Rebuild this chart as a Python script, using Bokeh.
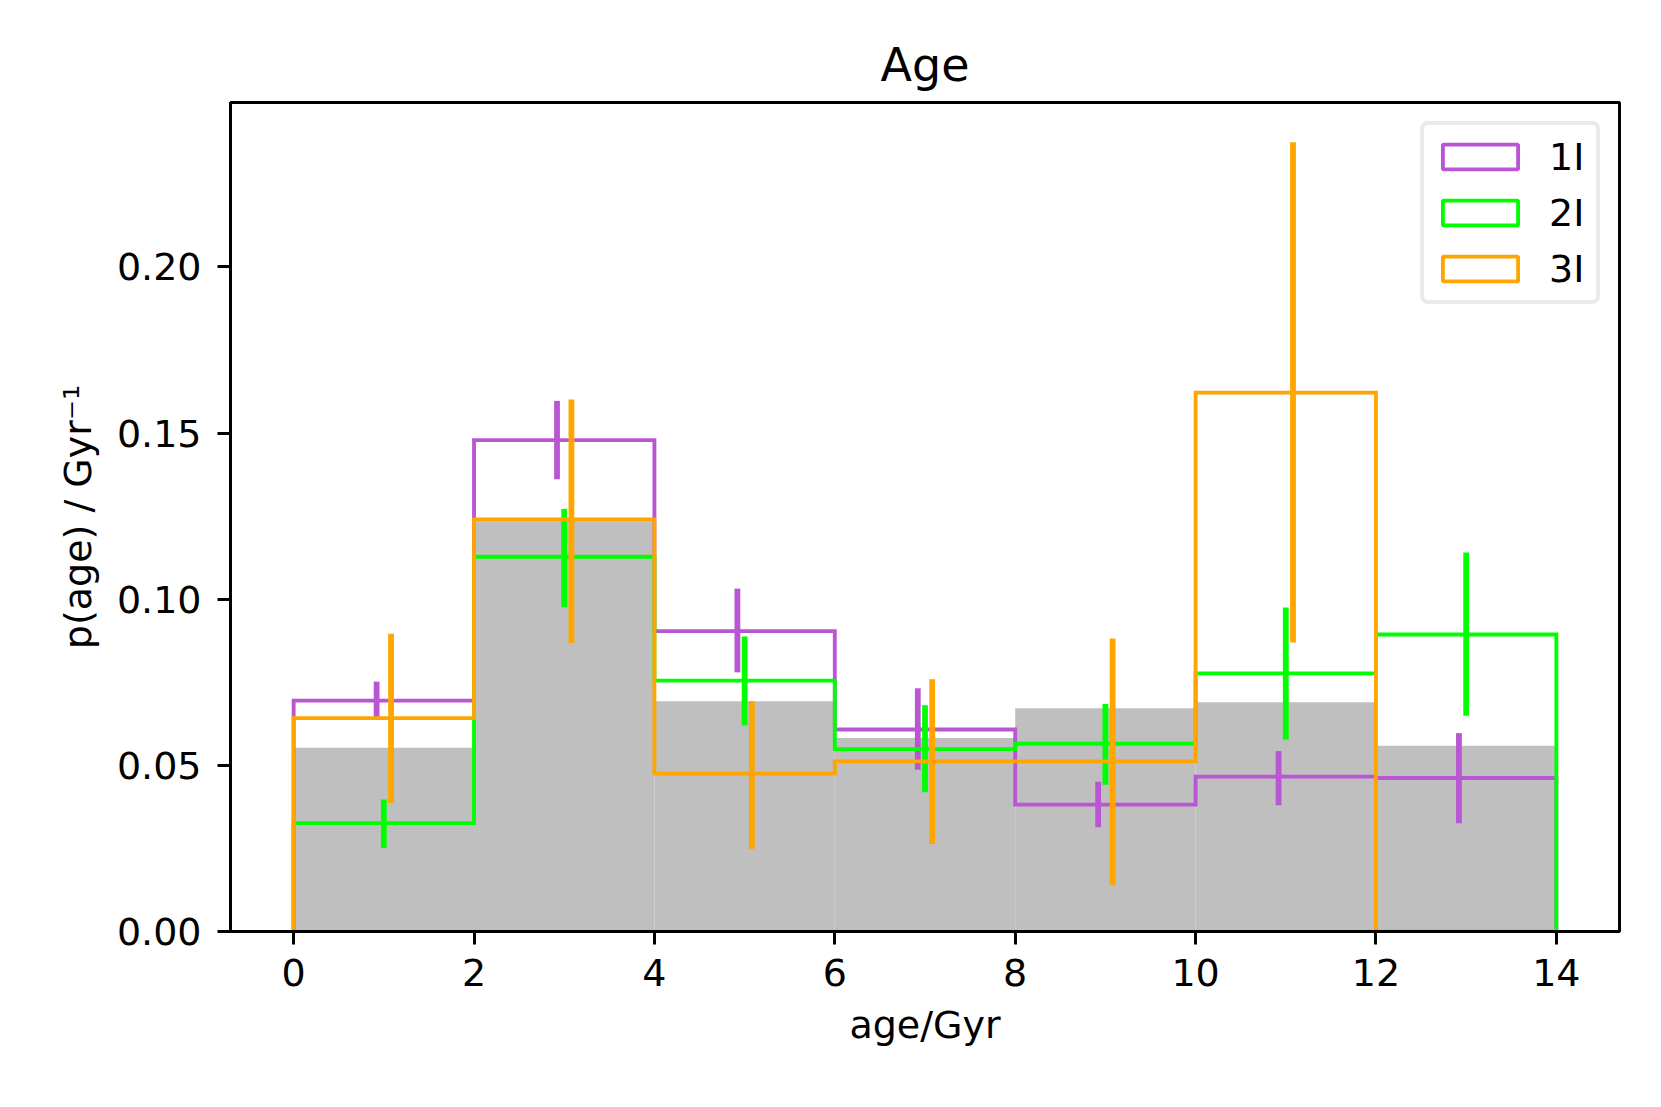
from bokeh.plotting import figure
from bokeh.models import Range1d, FixedTicker, NumeralTickFormatter, Legend, LegendItem, ColumnDataSource
from bokeh.embed import file_html
from bokeh.resources import INLINE

# ---- data ----
bin_edges = [0, 2, 4, 6, 8, 10, 12, 14]
prior = [0.0553, 0.1235, 0.0693, 0.0582, 0.0672, 0.0690, 0.0559]

labels = ["1I", "2I", "3I"]
colors = ["#ba55d3", "#00ff00", "#ffa500"]

p1I = [0.0695, 0.1479, 0.0904, 0.0608, 0.0382, 0.0466, 0.0462]
p1I_lo = [0.0645, 0.1361, 0.0780, 0.0487, 0.0314, 0.0380, 0.0326]
p1I_hi = [0.0752, 0.1597, 0.1032, 0.0732, 0.0451, 0.0543, 0.0597]

p2I = [0.0326, 0.1128, 0.0755, 0.0549, 0.0565, 0.0777, 0.0894]
p2I_lo = [0.0251, 0.0976, 0.0620, 0.0419, 0.0442, 0.0578, 0.0649]
p2I_hi = [0.0397, 0.1272, 0.0888, 0.0681, 0.0685, 0.0975, 0.1141]

p3I = [0.0642, 0.1240, 0.0475, 0.0512, 0.0512, 0.1622, 0.0]
p3I_lo = [0.0387, 0.0868, 0.0249, 0.0263, 0.0141, 0.0870, 0.0]
p3I_hi = [0.0896, 0.1601, 0.0693, 0.0759, 0.0882, 0.2375, 0.0]

offsets = [-0.08, 0.0, 0.08]
x_ticks = [0, 2, 4, 6, 8, 10, 12, 14]
y_ticks = [0.0, 0.05, 0.10, 0.15, 0.20]

series = [(p1I, p1I_lo, p1I_hi), (p2I, p2I_lo, p2I_hi), (p3I, p3I_lo, p3I_hi)]

FONT = "DejaVu Sans"

p = figure(
    frame_width=1389, frame_height=829,
    min_border_left=230, min_border_right=26, min_border_top=102, min_border_bottom=158,
    x_range=Range1d(-0.7, 14.7), y_range=Range1d(0, 0.2495),
    output_backend="svg", toolbar_location=None, title="Age",
    background_fill_color="white", border_fill_color="white",
)

p.title.text_font = FONT
p.title.text_font_size = "46px"
p.title.text_font_style = "normal"
p.title.text_color = "black"
p.title.align = "center"
p.title.standoff = 21

p.xgrid.visible = False
p.ygrid.visible = False
p.outline_line_color = "black"
p.outline_line_width = 3
p.outline_line_alpha = 1

for ax in (p.xaxis[0], p.yaxis[0]):
    ax.axis_line_width = 3
    ax.axis_line_color = "black"
    ax.major_tick_line_width = 3
    ax.major_tick_line_color = "black"
    ax.major_tick_in = 0
    ax.major_tick_out = 13
    ax.minor_tick_line_color = None
    ax.major_label_text_font = FONT
    ax.major_label_text_font_size = "38px"
    ax.major_label_text_color = "black"
    ax.axis_label_text_font = FONT
    ax.axis_label_text_font_size = "38px"
    ax.axis_label_text_font_style = "normal"
    ax.axis_label_text_color = "black"

p.xaxis.ticker = FixedTicker(ticks=x_ticks)
p.yaxis.ticker = FixedTicker(ticks=y_ticks)
p.yaxis.formatter = NumeralTickFormatter(format="0.00")
p.xaxis.axis_label = "age/Gyr"
p.yaxis.axis_label = "p(age) / Gyr\u207b\u00b9"
p.xaxis.major_label_standoff = 14
p.yaxis.major_label_standoff = 16
p.xaxis.axis_label_standoff = 14
p.yaxis.axis_label_standoff = 14

# prior histogram (grey bars)
p.quad(left=bin_edges[:-1], right=bin_edges[1:], bottom=0, top=prior,
       fill_color="#bfbfbf", line_color=None)

items = []
for (vals, lo, hi), col, lab, off in zip(series, colors, labels, offsets):
    # step outline
    xs = [bin_edges[0]]
    ys = [0.0]
    for i, v in enumerate(vals):
        xs += [bin_edges[i], bin_edges[i + 1]]
        ys += [v, v]
    xs.append(bin_edges[-1])
    ys.append(0.0)
    p.line(xs, ys, line_color=col, line_width=3.85, line_join="miter")
    # error bars
    centers = [(bin_edges[i] + bin_edges[i + 1]) / 2 + off for i in range(len(vals))]
    keep = [i for i in range(len(vals)) if hi[i] > lo[i]]
    src = ColumnDataSource(dict(x=[centers[i] for i in keep],
                                lo=[lo[i] for i in keep],
                                hi=[hi[i] for i in keep]))
    p.segment(x0="x", y0="lo", x1="x", y1="hi", source=src,
              line_color=col, line_width=5.8)
    # legend proxy: zero-size quad at the origin bin edge (not visible in plot)
    proxy = p.quad(left=[bin_edges[0]], right=[bin_edges[0]], bottom=[0], top=[0],
                   fill_alpha=0, line_color=col, line_width=3.85)
    items.append(LegendItem(label=lab, renderers=[proxy]))

legend = Legend(items=items, location="top_right")
legend.margin = 19
legend.padding = 9
legend.spacing = 11
legend.glyph_width = 94
legend.glyph_height = 31
legend.label_height = 45
legend.label_width = 38
legend.label_standoff = 22
legend.label_text_font = FONT
legend.label_text_font_size = "38px"
legend.label_text_color = "black"
legend.border_line_color = "#d6d6d6"
legend.border_line_width = 4
legend.background_fill_color = "white"
legend.background_fill_alpha = 0.8
if "border_radius" in Legend.properties():
    legend.border_radius = 8
p.add_layout(legend, "center")

open("out.html", "w").write(file_html(p, INLINE))
